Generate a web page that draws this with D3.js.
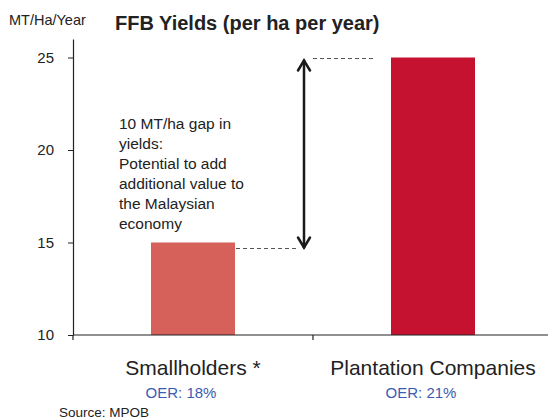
<!DOCTYPE html>
<html>
<head>
<meta charset="utf-8">
<script src="https://cdn.jsdelivr.net/npm/d3@7"></script>
<style>
  html, body { margin: 0; padding: 0; background: #fff; }
  svg { display: block; font-family: "Liberation Sans", Arial, sans-serif; }
</style>
</head>
<body>
<svg id="chart" width="549" height="419"></svg>
<script>
// Yield data (MT per hectare per year)
const categories = ["Smallholders *", "Plantation Companies"];
const yields = [15, 25];
const oerLabels = ["OER: 18%", "OER: 21%"];
const barColors = ["#d6605a", "#c41230"];
const yTicks = [10, 15, 20, 25];
const noteLines = [
  "10 MT/ha gap in",
  "yields:",
  "Potential to add",
  "additional value to",
  "the Malaysian",
  "economy"
];

const svg = d3.select("#chart");
const textColor = "#222";

const x = d3.scaleBand()
  .domain(categories)
  .range([73, 553])
  .paddingInner(0.65)
  .paddingOuter(0.325);

const y = d3.scaleLinear()
  .domain([10, 26])
  .range([335, 39]);

// Title and unit label
svg.append("text")
  .attr("x", 115).attr("y", 30)
  .attr("font-size", 20).attr("font-weight", "bold")
  .attr("fill", textColor)
  .text("FFB Yields (per ha per year)");

svg.append("text")
  .attr("x", 9).attr("y", 25)
  .attr("font-size", 14.5)
  .attr("fill", textColor)
  .text("MT/Ha/Year");

// Bars
svg.selectAll("rect.bar")
  .data(categories)
  .join("rect")
  .attr("class", "bar")
  .attr("x", d => x(d))
  .attr("width", x.bandwidth())
  .attr("y", (d, i) => y(yields[i]))
  .attr("height", (d, i) => y(10) - y(yields[i]))
  .attr("fill", (d, i) => barColors[i]);

// Y axis
const yAxis = svg.append("g")
  .attr("transform", "translate(73,0)")
  .call(d3.axisLeft(y).tickValues(yTicks).tickSize(5).tickPadding(14).tickSizeOuter(0));
yAxis.select(".domain").attr("stroke", textColor).attr("stroke-width", 1.2);
yAxis.selectAll(".tick line").attr("stroke", textColor);
yAxis.selectAll(".tick text")
  .attr("font-size", 15)
  .attr("font-family", "Liberation Sans, Arial, sans-serif")
  .attr("fill", textColor);

// X axis line with ticks at category boundaries
const xAxisG = svg.append("g");
xAxisG.append("line")
  .attr("x1", 73).attr("x2", 548)
  .attr("y1", y(10)).attr("y2", y(10))
  .attr("stroke", textColor).attr("stroke-width", 1.2);
const boundaries = [73, x(categories[1]) - x.step() * x.paddingInner() / 2];
xAxisG.selectAll("line.tk")
  .data(boundaries)
  .join("line")
  .attr("class", "tk")
  .attr("x1", d => d).attr("x2", d => d)
  .attr("y1", y(10)).attr("y2", y(10) + 5)
  .attr("stroke", textColor).attr("stroke-width", 1.2);

// Category labels
svg.selectAll("text.cat")
  .data(categories)
  .join("text")
  .attr("class", "cat")
  .attr("x", d => x(d) + x.bandwidth() / 2)
  .attr("y", 375)
  .attr("text-anchor", "middle")
  .attr("font-size", 21)
  .attr("fill", textColor)
  .text(d => d);

svg.selectAll("text.oer")
  .data(oerLabels)
  .join("text")
  .attr("class", "oer")
  .attr("x", (d, i) => x(categories[i]) + x.bandwidth() / 2 - 12)
  .attr("y", 398)
  .attr("text-anchor", "middle")
  .attr("font-size", 15)
  .attr("fill", "#3b5bb0")
  .text(d => d);

// Source note
svg.append("text")
  .attr("x", 59).attr("y", 417)
  .attr("font-size", 13.5)
  .attr("fill", textColor)
  .text("Source: MPOB");

// Gap annotation: dashed guides and double-headed arrow
const arrowX = 304;
const topY = y(yields[1]);
const lowY = y(yields[0]) + 6;

svg.append("line")
  .attr("x1", arrowX + 9).attr("x2", x(categories[1]) - 16)
  .attr("y1", topY + 1).attr("y2", topY + 1)
  .attr("stroke", "#555").attr("stroke-width", 1)
  .attr("stroke-dasharray", "4,3");

svg.append("line")
  .attr("x1", x(categories[0]) + x.bandwidth() + 1).attr("x2", arrowX - 5)
  .attr("y1", lowY).attr("y2", lowY)
  .attr("stroke", "#555").attr("stroke-width", 1)
  .attr("stroke-dasharray", "4,3");

const arrow = svg.append("g")
  .attr("stroke", "#1a1a1a").attr("stroke-width", 2.5)
  .attr("fill", "none").attr("stroke-linecap", "round");
const tipTop = topY + 3;
const tipBot = lowY - 1;
arrow.append("line")
  .attr("x1", arrowX).attr("x2", arrowX)
  .attr("y1", tipTop).attr("y2", tipBot);
arrow.append("path")
  .attr("d", `M${arrowX - 6},${tipTop + 10} L${arrowX},${tipTop} L${arrowX + 6},${tipTop + 10}`);
arrow.append("path")
  .attr("d", `M${arrowX - 6},${tipBot - 10} L${arrowX},${tipBot} L${arrowX + 6},${tipBot - 10}`);

// Annotation text
svg.append("text")
  .attr("x", 119).attr("y", 129)
  .attr("font-size", 15.5)
  .attr("fill", textColor)
  .selectAll("tspan")
  .data(noteLines)
  .join("tspan")
  .attr("x", 119)
  .attr("dy", (d, i) => i === 0 ? 0 : 20)
  .text(d => d);
</script>
</body>
</html>
